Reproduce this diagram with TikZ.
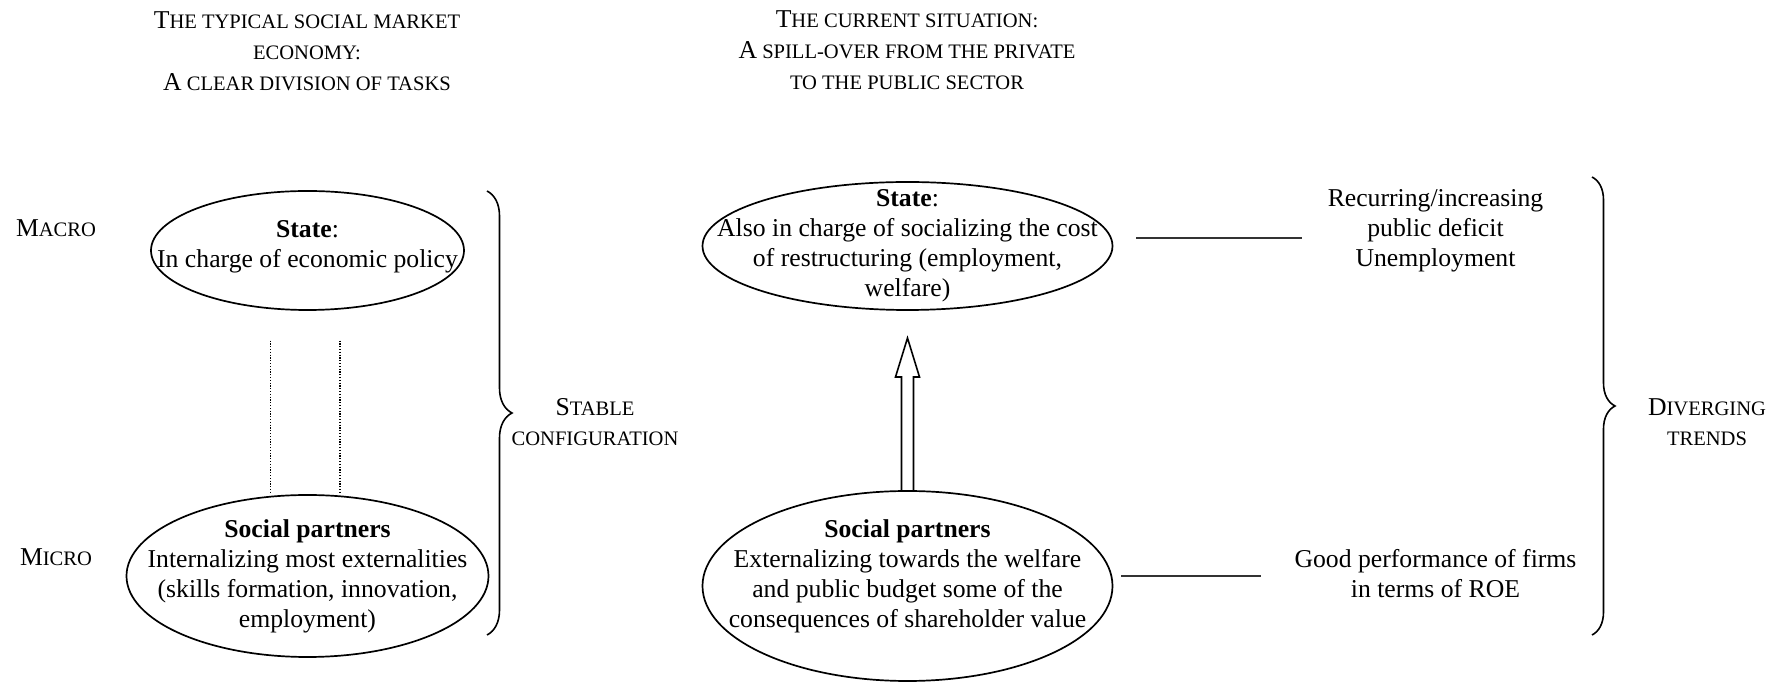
\documentclass[tikz,border=0pt]{standalone}
\usepackage{fontspec}
\setmainfont{Liberation Serif}
\usetikzlibrary{shapes.geometric,decorations.pathreplacing,calc}
\newcommand{\smc}[1]{{\fontsize{10.28pt}{15pt}\selectfont #1}}
\tikzset{
  body/.style={align=center, inner sep=0pt, font=\fontsize{12.85pt}{15pt}\selectfont},
  ttl/.style={align=center, inner sep=0pt, font=\fontsize{12.85pt}{15.5pt}\selectfont},
  oval/.style={draw, ellipse, line width=0.85pt, inner sep=0pt},
  thinline/.style={line width=0.55pt, draw=black!80},
  dotline/.style={line width=0.65pt, dash pattern=on 0.6pt off 0.8pt},
  bigbrace/.style={decorate, line width=0.8pt},
  hollowarrow/.style={line width=0.8pt, line join=miter}
}
\begin{document}
\begin{tikzpicture}[x=0.5pt, y=-0.5pt]
\useasboundingbox (0,0) rectangle (1785,683);

% titles
\node[ttl] (t1) at (307,51) {T\smc{HE TYPICAL SOCIAL MARKET}\\\smc{ECONOMY:}\\A\smc{ CLEAR DIVISION OF TASKS}};
\node[ttl] (t2) at (907,50) {T\smc{HE CURRENT SITUATION:}\\A\smc{ SPILL-OVER FROM THE PRIVATE}\\\smc{TO THE PUBLIC SECTOR}};

% level labels
\node[body] (macro) at (56,228) {M\smc{ACRO}};
\node[body] (micro) at (56,557) {M\smc{ICRO}};

% left ellipses
\node[oval, minimum width=313*0.5pt, minimum height=119*0.5pt] (e1) at (307.5,250.5) {};
\node[body] (e1t) at (307.5,246.5) {\textbf{State}:\\In charge of economic policy};
\node[oval, minimum width=362*0.5pt, minimum height=162*0.5pt] (e2) at (307.5,576) {};
\node[body] (e2t) at (307.5,576) {\textbf{Social partners}\\Internalizing most externalities\\(skills formation, innovation,\\employment)};

% dotted links
\coordinate (d1) at (270.7,340.7);
\coordinate (d2) at (340,340.7);
\draw[dotline] (d1) -- (d1 |- e2.north);
\draw[dotline] (d2) -- (d2 |- e2.north);

% left brace
\coordinate (lb1) at (487,191);
\coordinate (lb2) at (487,635);
\draw[bigbrace, decoration={brace, amplitude=12.5pt}] (lb1) -- (lb2);
\node[body] (stable) at (595,422) {S\smc{TABLE}\\\smc{CONFIGURATION}};

% right ellipses
\node[oval, minimum width=410*0.5pt, minimum height=128*0.5pt] (e3) at (907.5,246) {};
\node[body] (e3t) at (907.5,246) {\textbf{State}:\\Also in charge of socializing the cost\\of restructuring (employment,\\welfare)};
\node[oval, minimum width=410*0.5pt, minimum height=190*0.5pt] (e4) at (907.5,586) {};
\node[body] (e4t) at (907.5,576) {\textbf{Social partners}\\Externalizing towards the welfare\\and public budget some of the\\consequences of shareholder value};

% hollow arrow
\coordinate (atip) at (907.5,338);
\draw[hollowarrow] ($(e4.north)+(6,0)$) -- ($(atip)+(6,39)$) -- ($(atip)+(12,39)$) -- (atip)
  -- ($(atip)+(-12,39)$) -- ($(atip)+(-6,39)$) -- ($(e4.north)+(-6,0)$);

% outcomes
\node[body] (r1) at (1435.5,231) {Recurring/increasing\\public deficit\\Unemployment};
\node[body] (r2) at (1435.5,573.5) {Good performance of firms\\in terms of ROE};
\coordinate (l1a) at (1136,238);
\coordinate (l1b) at (1302,238);
\coordinate (l2a) at (1121,576);
\coordinate (l2b) at (1261,576);
\draw[thinline] (l1a) -- (l1b);
\draw[thinline] (l2a) -- (l2b);

% right brace
\coordinate (rb1) at (1592,177);
\coordinate (rb2) at (1592,635);
\draw[bigbrace, decoration={brace, amplitude=11.5pt}] (rb1) -- (rb2);
\node[body] (div) at (1707,422) {D\smc{IVERGING}\\\smc{TRENDS}};
\end{tikzpicture}
\end{document}
